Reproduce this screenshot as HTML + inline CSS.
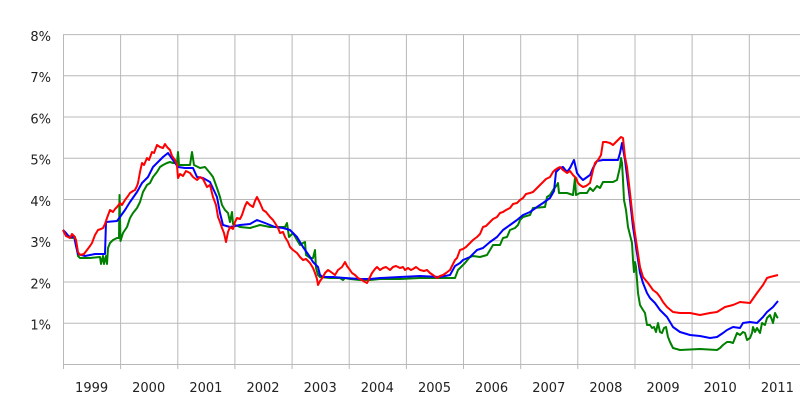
<!DOCTYPE html>
<html>
<head>
<meta charset="utf-8">
<style>
html,body{margin:0;padding:0;background:#fff;}
svg{display:block;}
text{font-family:"DejaVu Sans","Liberation Sans",sans-serif;font-size:13px;fill:#222;}
</style>
</head>
<body>
<svg width="800" height="400" viewBox="0 0 800 400" xmlns="http://www.w3.org/2000/svg">
<rect x="0" y="0" width="800" height="400" fill="#fff"/>
<g stroke="#b8b8b8" stroke-width="1" fill="none">
<line x1="63" y1="34.6" x2="800" y2="34.6"/>
<line x1="63" y1="75.8" x2="800" y2="75.8"/>
<line x1="63" y1="117" x2="800" y2="117"/>
<line x1="63" y1="158.3" x2="800" y2="158.3"/>
<line x1="63" y1="199.5" x2="800" y2="199.5"/>
<line x1="63" y1="240.8" x2="800" y2="240.8"/>
<line x1="63" y1="282" x2="800" y2="282"/>
<line x1="63" y1="323.3" x2="800" y2="323.3"/>
<line x1="63" y1="364.5" x2="800" y2="364.5"/>
<line x1="63.5" y1="34.6" x2="63.5" y2="369"/>
<line x1="120.6" y1="34.6" x2="120.6" y2="369"/>
<line x1="177.8" y1="34.6" x2="177.8" y2="369"/>
<line x1="234.9" y1="34.6" x2="234.9" y2="369"/>
<line x1="292.1" y1="34.6" x2="292.1" y2="369"/>
<line x1="349.2" y1="34.6" x2="349.2" y2="369"/>
<line x1="406.4" y1="34.6" x2="406.4" y2="369"/>
<line x1="463.5" y1="34.6" x2="463.5" y2="369"/>
<line x1="520.7" y1="34.6" x2="520.7" y2="369"/>
<line x1="577.8" y1="34.6" x2="577.8" y2="369"/>
<line x1="635" y1="34.6" x2="635" y2="369"/>
<line x1="692.1" y1="34.6" x2="692.1" y2="369"/>
<line x1="749.3" y1="34.6" x2="749.3" y2="369"/>
</g>
<g text-anchor="end">
<text x="51" y="41">8%</text>
<text x="51" y="82">7%</text>
<text x="51" y="123.5">6%</text>
<text x="51" y="164.5">5%</text>
<text x="51" y="206">4%</text>
<text x="51" y="247">3%</text>
<text x="51" y="288.5">2%</text>
<text x="51" y="329.5">1%</text>
</g>
<g text-anchor="middle">
<text x="91.6" y="392">1999</text>
<text x="148.7" y="392">2000</text>
<text x="205.9" y="392">2001</text>
<text x="263" y="392">2002</text>
<text x="320.2" y="392">2003</text>
<text x="377.3" y="392">2004</text>
<text x="434.5" y="392">2005</text>
<text x="491.6" y="392">2006</text>
<text x="548.8" y="392">2007</text>
<text x="605.9" y="392">2008</text>
<text x="663.1" y="392">2009</text>
<text x="720.2" y="392">2010</text>
<text x="777.4" y="392">2011</text>
</g>
<g fill="none" stroke-width="2" stroke-linejoin="round">
<polyline stroke="#008000" points="63,230 67,235 72,238 75,237 78,256 80,258 90,258 100,257 101,264 103,256 104,264 106,256 107,264 108,248 110,243 113,240 117,238 119,238 119.5,195 120.5,241 123,233 127,227 130,218 133,213 137,208 140,202 143,192 147,185 150,183 153,177 157,172 160,167 163,165 167,163 170,162 173,163 177,163 178,152 179,165 190,165 192,152 194,165 200,168 205,167 210,173 213,177 217,188 220,197 222,205 225,210 228,213 230,222 232,212 233,224 235,225 240,227 250,228 260,225 270,227 285,227 287,223 289,237 293,233 297,240 300,245 303,243 305,242 306,255 310,258 313,258 315,250 316,268 318,275 320,277 330,278 340,278 343,280 345,278 350,279 360,280 370,280 380,279 400,279 420,278 440,278 455,278 458,270 460,268 465,263 470,257 473,256 480,257 487,255 490,250 493,245 500,245 503,238 507,237 510,230 515,228 518,225 520,220 523,217 530,215 533,208 545,207 547,197 550,195 553,190 557,185 558,183 559,193 567,193 573,195 575,178 576,195 580,193 587,193 590,188 593,191 597,186 600,188 603,182 613,182 617,180 620,167 621,158 622,163 623,180 624,200 626,210 628,227 630,235 632,243 633,260 634,272 635,262 636,267 637,280 638,293 640,305 643,310 645,313 647,325 650,325 652,328 654,327 656,332 658,323 660,332 662,333 664,328 666,327 668,337 670,342 673,348 680,350 700,349 717,350 720,348 723,345 727,342 730,342 733,343 735,338 737,333 740,335 743,332 745,333 747,340 750,338 752,333 753,327 755,332 757,328 760,333 762,323 765,325 767,318 770,315 772,320 773,323 775,313 777,317 778,318"/>
<polyline stroke="#0000ff" points="63,230 66,233 70,238 74,236 76,246 78,254 85,256 95,254 105,254 106,222 117,221 120,217 125,210 130,202 137,192 142,183 148,177 153,167 158,162 163,157 168,153 173,160 178,167 185,168 193,168 197,177 203,178 210,182 217,197 220,213 223,225 230,227 240,225 250,224 257,220 265,223 275,227 283,228 290,230 297,237 303,247 310,257 313,262 318,267 320,275 323,277 333,277 345,278 360,279 370,279 380,278 400,277 420,276 440,277 450,275 455,266 460,263 463,260 470,257 477,250 483,248 490,242 497,237 503,230 510,225 517,220 523,215 530,212 537,207 543,203 550,198 554,191 556,172 560,168 563,167 567,172 570,168 574,160 577,173 580,177 583,180 590,175 593,168 597,161 603,160 618,160 620,153 622,143 625,160 630,200 633,227 637,253 640,273 643,283 647,293 650,298 655,303 660,310 663,313 667,317 670,322 673,327 680,332 690,335 700,336 710,338 717,337 723,333 727,330 733,327 740,328 743,323 750,322 757,323 760,320 763,317 767,312 773,307 778,301"/>
<polyline stroke="#ff0000" points="63,230 66,236 70,238 72,234 74,236 76,240 78,252 80,255 84,254 87,250 90,246 92,243 95,235 98,230 101,229 103,228 105,224 107,218 110,210 113,212 115,209 117,207 120,203 122,205 125,200 128,196 130,193 133,191 135,190 137,186 138,183 140,172 142,163 144,165 147,158 149,160 152,152 154,153 157,145 160,147 163,148 165,144 167,147 170,150 172,156 175,160 177,165 178,178 180,174 183,176 186,171 190,173 193,177 197,180 200,177 203,179 207,187 210,185 213,197 216,205 218,217 220,222 222,228 224,233 226,242 228,232 230,227 233,229 235,222 237,218 240,219 242,215 245,206 247,202 250,205 253,207 255,201 257,197 260,203 263,210 266,212 270,217 273,220 275,223 278,228 280,233 283,232 285,237 288,242 290,247 293,250 297,253 300,257 303,260 306,259 310,263 313,268 315,273 317,279 318,285 320,281 323,277 325,273 328,270 331,272 335,275 338,270 342,267 345,262 347,266 350,270 352,273 355,275 358,278 362,280 365,282 367,283 370,277 372,273 375,269 377,267 380,270 383,268 386,267 390,270 393,267 396,266 400,268 403,267 405,270 408,268 411,270 413,269 416,267 420,270 424,271 427,270 430,273 433,275 437,278 440,276 443,275 446,273 450,270 452,266 455,260 457,258 460,250 463,249 466,247 470,243 473,240 477,237 480,234 483,227 486,226 490,222 493,219 497,217 500,213 503,212 506,210 510,208 513,204 517,203 520,200 523,198 526,194 530,193 533,192 537,188 540,185 543,182 546,179 550,177 553,172 555,170 558,168 560,167 563,170 567,173 570,171 573,175 576,178 578,183 580,185 583,187 586,186 590,183 593,170 595,163 598,160 601,155 603,142 606,142 610,143 613,145 616,142 618,140 621,137 623,138 625,157 627,167 630,193 633,220 637,247 640,267 643,277 648,283 653,290 657,293 660,297 663,302 667,307 673,312 680,313 690,313 700,315 710,313 717,312 725,307 733,305 740,302 750,303 757,293 763,285 767,278 770,277 778,275"/>
</g>
</svg>
</body>
</html>
